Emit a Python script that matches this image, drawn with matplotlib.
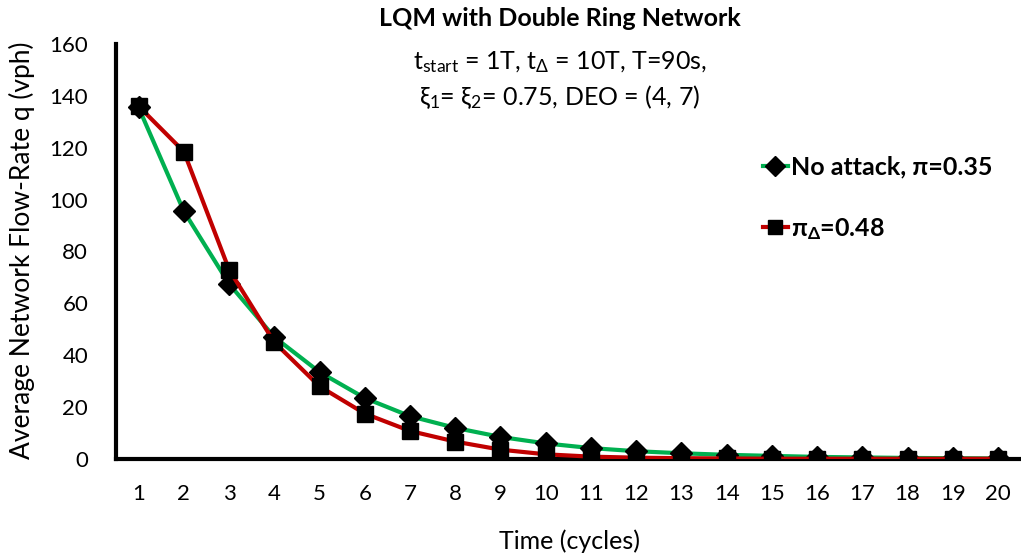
import numpy as np
import matplotlib.pyplot as plt

plt.rcParams["font.family"] = ["Lato", "DejaVu Sans"]
plt.rcParams["mathtext.fontset"] = "custom"
plt.rcParams["mathtext.rm"] = "Lato"
plt.rcParams["mathtext.it"] = "Lato"
plt.rcParams["mathtext.bf"] = "Lato:bold"

# Data
cycles = list(range(1, 21))
no_attack = [135.5, 95.5, 67.5, 47.0, 33.5, 23.5, 16.5, 12.0, 8.5, 6.0,
             4.2, 3.0, 2.2, 1.6, 1.2, 0.8, 0.6, 0.4, 0.3, 0.2]
attack = [136.0, 118.5, 73.0, 45.0, 28.0, 17.5, 10.8, 6.7, 3.6, 1.8,
          0.9, 0.5, 0.3, 0.2, 0.1, 0.1, 0.1, 0.1, 0.1, 0.1]

green = "#00B050"
red = "#C00000"

fig = plt.figure(figsize=(10.21, 5.56), dpi=100)
ax = fig.add_axes([0.1136, 0.1745, 0.886, 0.7465])

ax.plot(cycles, no_attack, color=green, lw=3, marker="D", ms=11,
        mfc="black", mec="black", label="No attack, π=0.35", zorder=3)
ax.plot(cycles, attack, color=red, lw=3, marker="s", ms=11,
        mfc="black", mec="black", label=r"π$_{\mathbf{Δ}}$=0.48", zorder=4)

ax.set_xlim(0.5, 20.5)
ax.set_ylim(0, 160)
ax.set_xticks(cycles)
ax.set_yticks(np.arange(0, 161, 20))
ax.tick_params(length=0, labelsize=16)
ax.tick_params(axis="y", pad=20)
ax.tick_params(axis="x", pad=18)

for side in ["top", "right"]:
    ax.spines[side].set_visible(False)
for side in ["left", "bottom"]:
    ax.spines[side].set_linewidth(3)
    ax.spines[side].set_color("black")

ax.set_xlabel("Time (cycles)", fontsize=18, va="center")
ax.xaxis.set_label_coords(0.501, -0.198)
ax.set_ylabel("Average Network Flow-Rate q (vph)", fontsize=19, va="center")
ax.yaxis.set_label_coords(-0.104, 0.504)

fig.text(0.548, 0.966, "LQM with Double Ring Network", ha="center",
         va="center", fontsize=18, fontweight="bold")
fig.text(0.548, 0.888, r"t$_{\mathrm{start}}$ = 1T, t$_{Δ}$ = 10T, T=90s,",
         ha="center", va="center", fontsize=18)
fig.text(0.548, 0.826, r"ξ$_{1}$= ξ$_{2}$= 0.75, DEO = (4, 7)",
         ha="center", va="center", fontsize=18)

leg = ax.legend(loc="upper left", bbox_to_anchor=(0.69, 0.785), frameon=False,
                prop={"size": 18, "weight": "bold"}, handlelength=1.0,
                handletextpad=0.15, labelspacing=1.5, markerscale=0.9)

fig.savefig("out.png", dpi=100)
